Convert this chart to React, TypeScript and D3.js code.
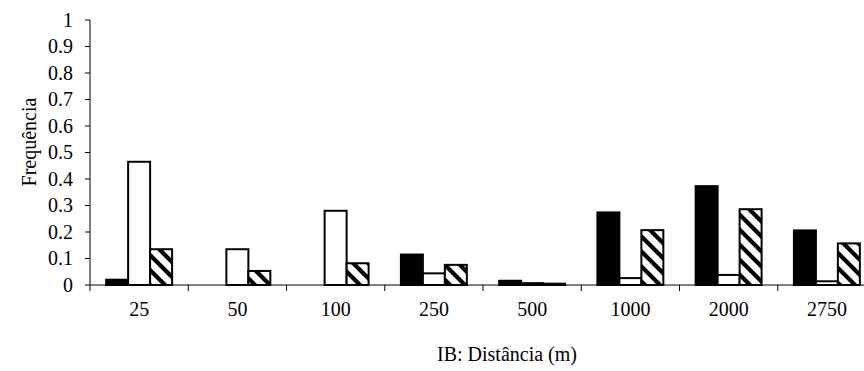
import React from "react";
import * as d3 from "d3";

const categories = ["25", "50", "100", "250", "500", "1000", "2000", "2750"];
const seriesBlack = [0.02, 0, 0, 0.115, 0.016, 0.274, 0.373, 0.206];
const seriesWhite = [0.465, 0.135, 0.28, 0.044, 0.007, 0.026, 0.038, 0.014];
const seriesHatch = [0.135, 0.053, 0.082, 0.076, 0.005, 0.207, 0.286, 0.157];
const yTicks = [0, 0.1, 0.2, 0.3, 0.4, 0.5, 0.6, 0.7, 0.8, 0.9, 1];
const yTickLabels = ["0", "0.1", "0.2", "0.3", "0.4", "0.5", "0.6", "0.7", "0.8", "0.9", "1"];
const seriesKeys = ["black", "white", "hatch"];

const W = 864;
const H = 371;
const left = 90;
const top = 20;
const bottom = 285;
const catW = 98.25;
const right = left + catW * categories.length;
const font = "Liberation Serif";

export default function App() {
  const x = d3.scaleBand<string>().domain(categories).range([left, right]).padding(0);
  const inner = d3
    .scaleBand<string>()
    .domain(seriesKeys)
    .range([0, x.bandwidth()])
    .paddingOuter(0.735)
    .paddingInner(0);
  const y = d3.scaleLinear().domain([0, 1]).range([bottom, top]);

  const series = [
    { key: "black", values: seriesBlack, fill: "#000" },
    { key: "white", values: seriesWhite, fill: "#fff" },
    { key: "hatch", values: seriesHatch, fill: "url(#hatch)" },
  ];

  const boundaries = d3.range(categories.length + 1).map((i) => left + i * x.step());

  return (
    <svg
      width={W}
      height={H}
      style={{ position: "absolute", left: 0, top: 0, background: "#fff", fontFamily: font }}
    >
      <defs>
        <pattern id="hatch" patternUnits="userSpaceOnUse" width={15} height={15}>
          <rect width={15} height={15} fill="#fff" />
          <path d="M-4,-4 L19,19 M-4,11 L4,19 M11,-4 L19,4" stroke="#000" strokeWidth={4.2} />
        </pattern>
      </defs>
      {series.map((s) =>
        s.values.map((v, i) =>
          v > 0 ? (
            <rect
              key={s.key + i}
              x={(x(categories[i]) as number) + (inner(s.key) as number)}
              y={y(v)}
              width={inner.bandwidth()}
              height={bottom - y(v)}
              fill={s.fill}
              stroke="#000"
              strokeWidth={2}
            />
          ) : null
        )
      )}
      <line x1={left} x2={left} y1={top} y2={bottom} stroke="#000" strokeWidth={1} />
      {yTicks.map((t, i) => (
        <g key={"yt" + i}>
          <line x1={left - 5} x2={left} y1={y(t)} y2={y(t)} stroke="#000" strokeWidth={1} />
          <text x={73} y={y(t)} dy="0.33em" textAnchor="end" fontSize={20} fill="#000">
            {yTickLabels[i]}
          </text>
        </g>
      ))}
      <line x1={left} x2={right} y1={bottom} y2={bottom} stroke="#000" strokeWidth={1} />
      {boundaries.map((b, i) => (
        <line key={"xt" + i} x1={b} x2={b} y1={bottom} y2={bottom + 6} stroke="#000" strokeWidth={1} />
      ))}
      {categories.map((c) => (
        <text
          key={"xl" + c}
          x={(x(c) as number) + x.bandwidth() / 2}
          y={316}
          textAnchor="middle"
          fontSize={20}
          fill="#000"
        >
          {c}
        </text>
      ))}
      <text x={507} y={361} textAnchor="middle" fontSize={20} fill="#000">
        IB: Distância (m)
      </text>
      <text transform="translate(36,142) rotate(-90)" textAnchor="middle" fontSize={20} fill="#000">
        Frequência
      </text>
    </svg>
  );
}
